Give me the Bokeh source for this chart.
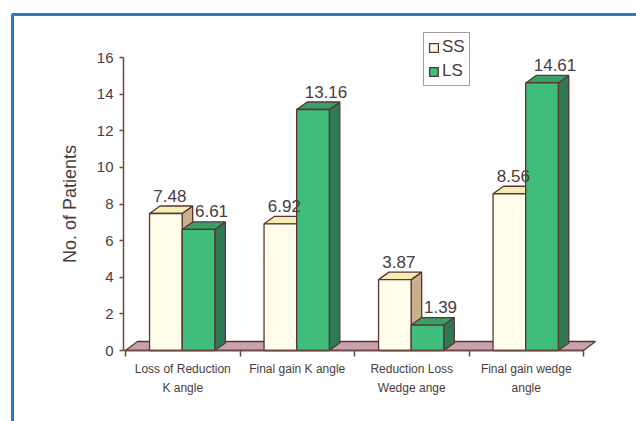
from bokeh.plotting import figure
from bokeh.models import (Range1d, LinearAxis, FixedTicker, BoxAnnotation, Legend,
                          LegendItem, ColumnDataSource)
from bokeh.embed import file_html
from bokeh.resources import INLINE
from bokeh.core.properties import value

# ---------------- data ----------------
categories = ["Loss of Reduction\nK angle", "Final gain K angle",
              "Reduction Loss\nWedge ange", "Final gain wedge\nangle"]
series_names = ["SS", "LS"]
ss_values = [7.48, 6.92, 3.87, 8.56]
ls_values = [6.61, 13.16, 1.39, 14.61]
y_ticks = [0, 2, 4, 6, 8, 10, 12, 14, 16]
y_title = "No. of Patients"

# ---------------- styling / geometry ----------------
FONT = "Liberation Sans"
TXT = "#4a3c3c"
AXC = "#6b4646"
EDGE = "#5a3434"
W, H = 636, 421
PX_X = 114.5          # pixels per category unit
PX_Y = 18.3125        # pixels per patient unit
ORIG_X, ORIG_Y = 125, 350   # canvas pixel of data (0, 0)
x_start = -ORIG_X / PX_X
x_end = x_start + W / PX_X
y_start = -(H - ORIG_Y) / PX_Y
y_end = ORIG_Y / PX_Y
axis_x = -2.0 / PX_X

bar_w = 0.285
ss_off = 0.21
ls_off = ss_off + bar_w
ddx, ddy = 10.5 / PX_X, 7.5 / PX_Y     # bar depth
fdx, fdy = 12.0 / PX_X, 9.0 / PX_Y     # floor depth

colors = {
    "SS": dict(front="#fffdea", side="#c9b08c", top="#f4eeb2"),
    "LS": dict(front="#3fbd7a", side="#2f7a52", top="#38a066"),
}

n = len(categories)

p = figure(width=W, height=H, x_range=Range1d(x_start, x_end),
           y_range=Range1d(y_start, y_end), output_backend="svg", toolbar_location=None,
           x_axis_location=None, y_axis_location=None,
           min_border_left=0, min_border_right=0, min_border_top=0,
           min_border_bottom=0)
p.grid.visible = False
p.outline_line_color = None
p.background_fill_color = "white"
p.border_fill_color = "white"

# blue frame around the figure
p.add_layout(BoxAnnotation(left=12, right=900, top=14, bottom=900,
                           left_units="canvas", right_units="canvas",
                           top_units="canvas", bottom_units="canvas",
                           fill_alpha=0, line_color="#2f76c0", line_width=3,
                           line_alpha=1, level="underlay"))

# floor
p.patch([0, n, n + fdx, fdx], [0, 0, fdy, fdy], fill_color="#c9a2ac",
        line_color=EDGE, line_width=1.3)


def draw_series(vals, off, c):
    lefts = [i + off for i in range(n)]
    rights = [l + bar_w for l in lefts]
    side_xs = [[r, r + ddx, r + ddx, r] for r in rights]
    side_ys = [[0, ddy, v + ddy, v] for v in vals]
    top_xs = [[l, r, r + ddx, l + ddx] for l, r in zip(lefts, rights)]
    top_ys = [[v, v, v + ddy, v + ddy] for v in vals]
    p.patches(side_xs, side_ys, fill_color=c["side"], line_color=EDGE, line_width=1.3)
    p.patches(top_xs, top_ys, fill_color=c["top"], line_color=EDGE, line_width=1.3)
    src = ColumnDataSource(dict(left=lefts, right=rights, top=vals, bottom=[0] * n))
    return p.quad(left="left", right="right", top="top", bottom="bottom", source=src,
                  fill_color=c["front"], line_color=EDGE, line_width=1.3)


r_ss = draw_series(ss_values, ss_off, colors["SS"])
r_ls = draw_series(ls_values, ls_off, colors["LS"])

# value labels
for vals, off, dx in ((ss_values, ss_off, 4), (ls_values, ls_off, 13)):
    p.text(x=[i + off + bar_w / 2 for i in range(n)], y=vals,
           text=[f"{v:.2f}" for v in vals], x_offset=dx, y_offset=-18,
           text_align="center", text_baseline="alphabetic",
           text_font=value(FONT), text_font_size="17px", text_color=TXT)

# y axis (fixed at the left edge of the plotting area)
yaxis = LinearAxis(ticker=FixedTicker(ticks=y_ticks), bounds=(0, 16),
                   fixed_location=axis_x)
yaxis.axis_label = y_title
yaxis.axis_label_text_font = FONT
yaxis.axis_label_text_font_size = "18px"
yaxis.axis_label_text_font_style = "normal"
yaxis.axis_label_text_color = TXT
yaxis.axis_label_standoff = 14
yaxis.major_label_text_font = FONT
yaxis.major_label_text_font_size = "15px"
yaxis.major_label_text_color = TXT
yaxis.major_label_standoff = 6
yaxis.major_tick_out = 4
yaxis.major_tick_in = 0
yaxis.minor_tick_out = 0
yaxis.minor_tick_in = 0
yaxis.axis_line_color = AXC
yaxis.axis_line_width = 1.5
yaxis.major_tick_line_color = AXC
yaxis.major_tick_line_width = 1.5
p.add_layout(yaxis, "left")

# x axis
centers = [i + 0.5 for i in range(n)]
bounds_ticks = [float(i) for i in range(n + 1)]
xaxis = LinearAxis(ticker=FixedTicker(ticks=centers, minor_ticks=bounds_ticks),
                   bounds=(axis_x, n), fixed_location=0)
xaxis.major_label_overrides = {c: lab for c, lab in zip(centers, categories)}
xaxis.major_label_text_font = FONT
xaxis.major_label_text_font_size = "12px"
xaxis.major_label_text_color = TXT
xaxis.major_label_text_line_height = 1.4
xaxis.major_label_standoff = 5
xaxis.major_tick_out = 0
xaxis.major_tick_in = 0
xaxis.minor_tick_out = 6
xaxis.minor_tick_in = 0
xaxis.minor_tick_line_color = AXC
xaxis.minor_tick_line_width = 1.5
xaxis.axis_line_color = AXC
xaxis.axis_line_width = 1.5
p.add_layout(xaxis, "below")

# legend
legend = Legend(items=[LegendItem(label=series_names[0], renderers=[r_ss]),
                       LegendItem(label=series_names[1], renderers=[r_ls])],
                location=(423, H - 86), orientation="vertical")
legend.border_line_color = "#4a3c3c"
legend.border_line_width = 1.5
legend.background_fill_color = "white"
legend.background_fill_alpha = 1
legend.padding = 4
legend.spacing = 4
legend.margin = 0
legend.glyph_width = 11
legend.glyph_height = 11
legend.label_standoff = 3
legend.label_text_font = FONT
legend.label_text_font_size = "17px"
legend.label_text_color = TXT
p.add_layout(legend, "center")

open("out.html", "w").write(file_html(p, INLINE))
